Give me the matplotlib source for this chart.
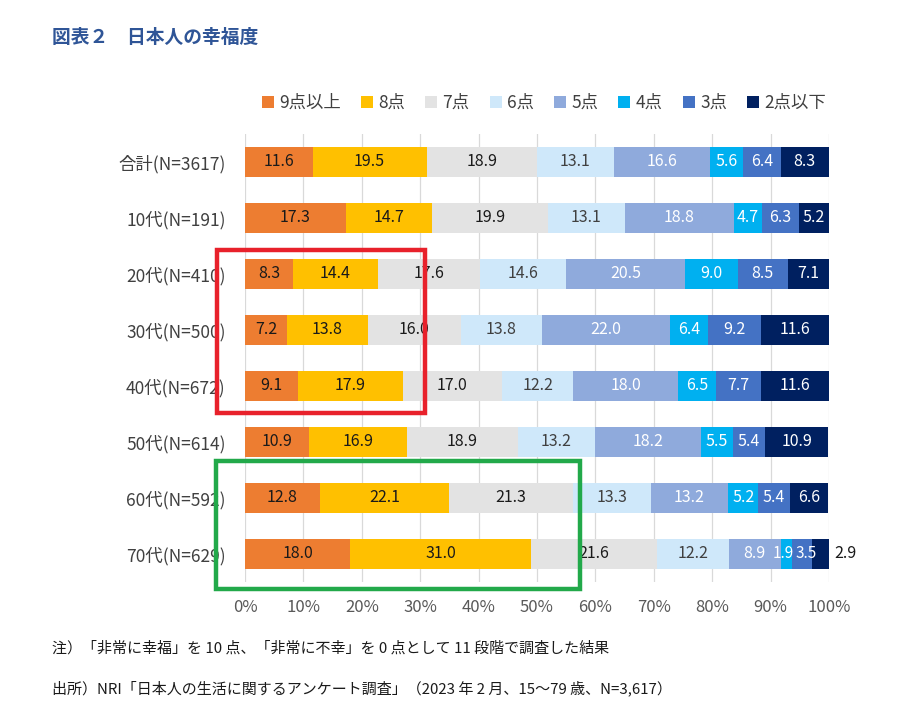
import matplotlib
matplotlib.use("Agg")
import matplotlib.pyplot as plt
from matplotlib.patches import Rectangle
import numpy as np

plt.rcParams['font.family'] = ['Noto Sans CJK JP', 'DejaVu Sans']

categories = ["合計(N=3617)", "10代(N=191)", "20代(N=410)", "30代(N=500)",
              "40代(N=672)", "50代(N=614)", "60代(N=592)", "70代(N=629)"]
series_names = ["9点以上", "8点", "7点", "6点", "5点", "4点", "3点", "2点以下"]
s9 = [11.6, 17.3, 8.3, 7.2, 9.1, 10.9, 12.8, 18.0]
s8 = [19.5, 14.7, 14.4, 13.8, 17.9, 16.9, 22.1, 31.0]
s7 = [18.9, 19.9, 17.6, 16.0, 17.0, 18.9, 21.3, 21.6]
s6 = [13.1, 13.1, 14.6, 13.8, 12.2, 13.2, 13.3, 12.2]
s5 = [16.6, 18.8, 20.5, 22.0, 18.0, 18.2, 13.2, 8.9]
s4 = [5.6, 4.7, 9.0, 6.4, 6.5, 5.5, 5.2, 1.9]
s3 = [6.4, 6.3, 8.5, 9.2, 7.7, 5.4, 5.4, 3.5]
s2 = [8.3, 5.2, 7.1, 11.6, 11.6, 10.9, 6.6, 2.9]
x_ticks = [0, 10, 20, 30, 40, 50, 60, 70, 80, 90, 100]

series = [s9, s8, s7, s6, s5, s4, s3, s2]
colors = ["#ED7D31", "#FFC000", "#E3E3E3", "#CFE8FA", "#8FAADC", "#00B0F0", "#4472C4", "#002060"]
text_colors = ["#1a1a1a", "#1a1a1a", "#1a1a1a", "#404040", "white", "white", "white", "white"]

W, H = 900, 723
fig = plt.figure(figsize=(9, 7.23), dpi=100)
ax = fig.add_axes([245 / W, 1 - 582 / H, (829 - 245) / W, (582 - 134) / H])

y = np.arange(len(categories))
left = np.zeros(len(categories))
bar_h = 0.54
for i, (vals, c, tc) in enumerate(zip(series, colors, text_colors)):
    vals = np.array(vals)
    ax.barh(y, vals, left=left, height=bar_h, color=c, label=series_names[i], zorder=2)
    for j, v in enumerate(vals):
        cx = left[j] + v / 2
        col = tc
        fs = 11.5
        if i == len(series) - 1 and v < 3.2:
            cx = left[j] + v + 2.9
            col = "#1a1a1a"
        elif v < 4:
            # very narrow segments: nudge labels apart slightly
            cx += -0.5 if i == 5 else 0.7
            fs = 11
        ax.text(cx, y[j], f"{v:.1f}", ha="center", va="center", fontsize=fs,
                color=col, zorder=3)
    left += vals

ax.set_xlim(0, 100)
ax.set_ylim(len(categories) - 0.5, -0.5)
ax.set_xticks(x_ticks)
ax.set_xticklabels([f"{t}%" for t in x_ticks], fontsize=12, color="#595959")
ax.set_yticks(y)
ax.set_yticklabels(categories, fontsize=12.5, color="#404040")
ax.tick_params(axis="x", length=0, pad=12)
ax.tick_params(axis="y", length=0, pad=14)
ax.grid(axis="x", color="#D9D9D9", linewidth=0.9, zorder=0)
ax.set_axisbelow(True)
for sp in ax.spines.values():
    sp.set_visible(False)

# legend
fig.legend(*ax.get_legend_handles_labels(), loc="center", ncol=8,
           bbox_to_anchor=(544 / W, 1 - 103 / H), frameon=False, fontsize=12.5,
           handlelength=0.7, handleheight=0.7, handletextpad=0.3, columnspacing=1.15,
           labelcolor="#404040")

# title
fig.text(52 / W, 1 - 37 / H, "図表２　日本人の幸福度", fontsize=13.5, fontweight="bold",
         color="#2F5597", ha="left", va="center")

# notes
fig.text(52 / W, 1 - 648 / H, "注）「非常に幸福」を 10 点、「非常に不幸」を 0 点として 11 段階で調査した結果",
         fontsize=10.8, color="#1a1a1a", ha="left", va="center")
fig.text(52 / W, 1 - 688 / H, "出所）NRI「日本人の生活に関するアンケート調査」（2023 年 2 月、15～79 歳、N=3,617）",
         fontsize=10.8, color="#1a1a1a", ha="left", va="center")

# highlight boxes
def box(x0, y0, x1, y1, color):
    fig.patches.append(Rectangle((x0 / W, 1 - y1 / H), (x1 - x0) / W, (y1 - y0) / H,
                                 transform=fig.transFigure, fill=False,
                                 edgecolor=color, linewidth=3.2, zorder=10))

box(217, 250, 425, 413, "#E8212B")
box(216, 461, 580, 589, "#22A94A")

fig.savefig("out.png", dpi=100)
